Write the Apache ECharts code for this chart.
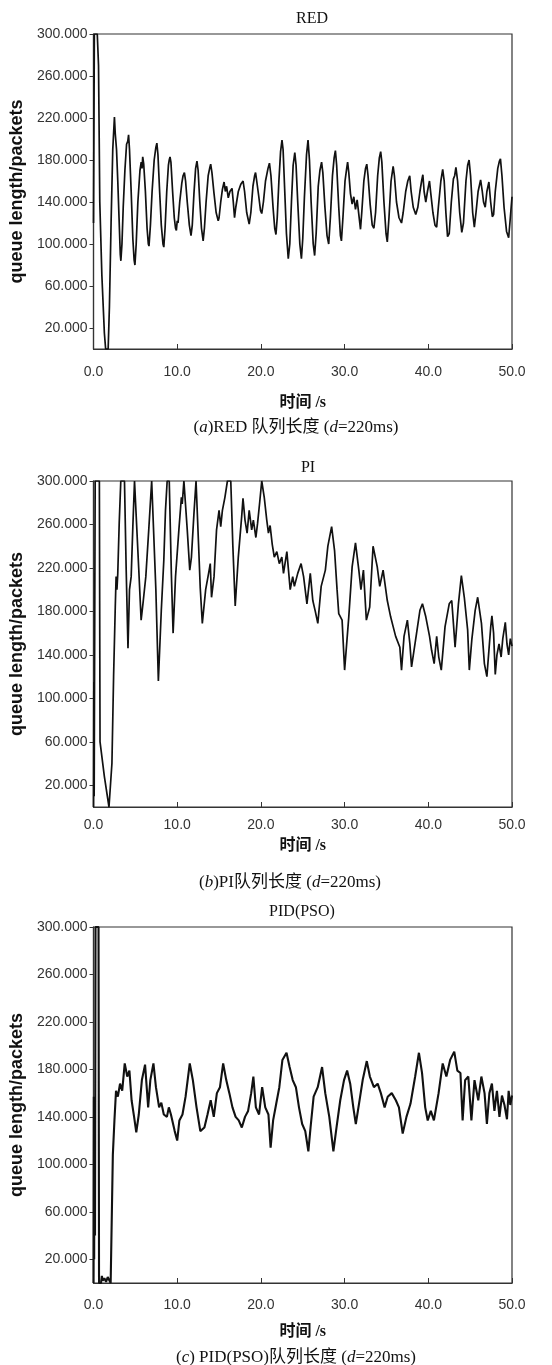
<!DOCTYPE html>
<html>
<head>
<meta charset="utf-8">
<script src="https://cdn.jsdelivr.net/npm/echarts@6/dist/echarts.min.js"></script>
<style>
  html, body { margin: 0; padding: 0; background: #fff; }
  #chart { width: 552px; height: 1365px; }
</style>
</head>
<body>
<div id="chart"></div>
<script>
// 坐标轴刻度
const xTicks = [0, 10, 20, 30, 40, 50];
const yTicks = [20, 60, 100, 140, 180, 220, 260, 300];
const panelTitles = ['RED', 'PI', 'PID(PSO)'];
const captions = [
  '({i|a})RED 队列长度 ({i|d}=220ms)',
  '({i|b})PI队列长度 ({i|d}=220ms)',
  '({i|c}) PID(PSO)队列长度 ({i|d}=220ms)'
];
const xName = '时间 /s';
const yName = 'queue length/packets';

// [时间 s, 队列长度 packets]
const redQueue = [
  [0,120],[0.1,300],[0.45,300],[0.6,270],[0.75,140],[1.0,70],[1.3,15],[1.45,0],[1.75,0],[1.9,40],[2.1,120],[2.3,190],[2.5,221],
  [2.6,205],[2.75,190],[2.9,160],[3.05,125],[3.2,90],[3.27,84],[3.4,100],[3.55,135],[3.75,170],[3.95,195],[4.1,198],[4.19,204],
  [4.3,190],[4.5,150],[4.7,105],[4.85,85],[4.95,80],[5.1,100],[5.3,140],[5.55,170],[5.7,178],[5.8,172],[5.88,183],[6.0,176],
  [6.2,150],[6.4,115],[6.55,100],[6.63,98],[6.8,118],[7.0,150],[7.25,180],[7.45,192],[7.57,196],[7.7,185],[7.9,150],[8.1,118],
  [8.3,100],[8.4,97],[8.55,115],[8.75,150],[8.95,175],[9.05,180],[9.14,183],[9.25,178],[9.45,150],[9.65,125],[9.8,115],[9.9,113],
  [10.0,122],[10.1,120],[10.3,140],[10.55,158],[10.7,165],[10.86,168],[11.0,160],[11.2,140],[11.45,118],[11.65,108],[11.8,118],
  [12.0,148],[12.2,172],[12.36,179],[12.5,170],[12.7,140],[12.9,115],[13.1,103],[13.25,115],[13.45,140],[13.7,165],[13.9,173],
  [14.0,176],[14.15,168],[14.4,148],[14.65,130],[14.9,122],[15.0,125],[15.2,140],[15.4,152],[15.6,159],[15.75,150],[15.9,155],
  [16.1,144],[16.3,150],[16.55,153],[16.7,140],[16.85,125],[17.0,135],[17.3,150],[17.6,157],[17.87,160],[18.05,150],[18.3,130],
  [18.6,119],[18.8,130],[19.05,155],[19.25,165],[19.36,168],[19.5,160],[19.75,145],[19.95,132],[20.1,129],[20.3,140],[20.55,160],
  [20.85,172],[21.02,177],[21.2,165],[21.45,135],[21.65,115],[21.8,109],[21.95,125],[22.15,160],[22.35,188],[22.52,199],[22.65,190],
  [22.85,150],[23.05,110],[23.27,86],[23.45,100],[23.65,140],[23.85,175],[24.05,187],[24.2,175],[24.4,140],[24.65,100],[24.84,86],
  [25.0,105],[25.2,145],[25.45,185],[25.63,199],[25.8,180],[26.0,140],[26.25,100],[26.42,89],[26.6,110],[26.85,155],[27.05,170],
  [27.25,178],[27.4,168],[27.65,135],[27.9,108],[28.1,100],[28.3,125],[28.55,165],[28.75,182],[28.9,189],[29.05,175],[29.3,135],
  [29.5,108],[29.62,103],[29.8,125],[30.05,160],[30.25,172],[30.36,178],[30.5,168],[30.7,148],[30.9,138],[31.1,145],[31.3,133],
  [31.5,142],[31.7,128],[31.9,114],[32.05,130],[32.3,160],[32.5,172],[32.65,176],[32.8,165],[33.05,138],[33.3,118],[33.5,115],
  [33.7,130],[33.95,165],[34.15,182],[34.31,188],[34.45,178],[34.7,140],[34.95,110],[35.1,102],[35.3,125],[35.55,160],[35.8,174],
  [35.95,165],[36.2,140],[36.5,125],[36.8,120],[37.0,130],[37.3,150],[37.55,160],[37.78,165],[37.95,150],[38.2,135],[38.5,128],
  [38.75,135],[39.0,150],[39.2,160],[39.35,166],[39.5,150],[39.7,140],[39.9,150],[40.14,160],[40.3,148],[40.55,130],[40.8,118],
  [41.0,116],[41.2,135],[41.5,160],[41.72,171],[41.9,160],[42.1,130],[42.3,107],[42.5,110],[42.75,140],[43.0,162],[43.15,165],
  [43.3,173],[43.5,160],[43.75,130],[44.0,111],[44.2,120],[44.5,160],[44.7,175],[44.87,180],[45.05,165],[45.3,130],[45.5,116],
  [45.7,130],[45.95,150],[46.25,161],[46.45,150],[46.6,140],[46.8,135],[47.0,150],[47.24,159],[47.45,140],[47.65,126],[47.8,128],
  [48.0,150],[48.3,172],[48.5,179],[48.62,181],[48.8,165],[49.05,135],[49.35,112],[49.6,106],[49.8,125],[50,145]
];

const piQueue = [
  [0,0],[0.04,115],[0.08,10],[0.12,112],[0.2,300],[0.7,300],[0.78,60],[1.3,28],[1.85,0],[2.0,0],[2.2,40],[2.4,120],[2.6,184],
  [2.7,212],[2.8,200],[2.9,215],[3.07,261],[3.26,300],[3.7,300],[3.9,220],[4.12,146],[4.3,200],[4.5,212],[4.7,258],[4.9,300],
  [5.1,300],[5.4,220],[5.69,172],[5.95,190],[6.25,212],[6.6,255],[6.95,300],[7.15,300],[7.45,200],[7.75,116],[8.1,181],[8.4,227],
  [8.6,273],[8.8,300],[9.05,300],[9.3,215],[9.51,160],[9.8,212],[10.2,255],[10.5,285],[10.6,279],[10.8,300],[10.95,300],[11.2,255],
  [11.5,218],[11.7,230],[12.0,270],[12.25,300],[12.4,300],[12.55,242],[12.75,202],[13.0,169],[13.4,200],[13.75,215],[13.95,224],
  [14.1,193],[14.4,212],[14.7,255],[15.0,273],[15.2,258],[15.4,273],[15.7,285],[16.0,300],[16.4,300],[16.65,240],[16.93,185],
  [17.3,230],[17.7,267],[17.86,284],[18.1,264],[18.35,252],[18.6,273],[18.9,255],[19.1,264],[19.4,248],[19.6,261],[19.85,280],
  [20.1,300],[20.4,285],[20.7,264],[20.9,252],[21.1,259],[21.35,242],[21.6,230],[21.9,235],[22.2,224],[22.5,230],[22.7,215],
  [23.1,235],[23.5,200],[23.8,212],[24.0,203],[24.4,215],[24.8,224],[25.1,212],[25.5,187],[25.9,215],[26.2,190],[26.5,180],
  [26.8,169],[27.2,203],[27.7,218],[28.0,240],[28.45,258],[28.8,236],[29.1,200],[29.3,178],[29.7,172],[30.0,126],[30.5,175],
  [30.9,221],[31.3,243],[31.7,218],[31.95,200],[32.25,218],[32.6,172],[33.0,184],[33.4,240],[33.9,221],[34.2,203],[34.6,218],
  [35.1,190],[35.5,175],[35.8,166],[36.1,157],[36.6,147],[36.8,126],[37.1,157],[37.5,172],[37.8,150],[38.0,129],[38.6,160],
  [39.0,181],[39.3,187],[39.7,175],[40.15,157],[40.4,144],[40.7,132],[41.0,157],[41.25,138],[41.55,126],[42.0,166],[42.5,187],
  [42.8,190],[43.0,169],[43.2,147],[43.6,187],[43.95,213],[44.3,193],[44.7,163],[44.9,126],[45.2,154],[45.6,181],[45.9,193],
  [46.35,169],[46.7,132],[47.0,120],[47.2,140],[47.45,165],[47.6,176],[47.8,160],[48.0,122],[48.2,140],[48.45,150],[48.7,138],
  [48.9,155],[49.2,170],[49.4,150],[49.6,140],[49.8,155],[50,148]
];

const pidQueue = [
  [0,0],[0.04,157],[0.08,20],[0.12,150],[0.18,40],[0.24,300],[0.6,300],[0.66,0],[0.9,0],[1.0,6],[1.1,2],[1.3,4],[1.5,1],[1.7,5],
  [1.9,2],[2.05,0],[2.31,108],[2.5,137],[2.69,162],[2.91,157],[3.17,168],[3.43,162],[3.73,185],[4.03,174],[4.29,179],[4.55,154],
  [4.85,140],[5.11,127],[5.41,142],[5.78,171],[6.16,184],[6.53,148],[6.79,171],[7.16,185],[7.46,165],[7.84,148],[8.1,152],[8.4,142],
  [8.77,140],[9.0,148],[9.25,142],[9.7,128],[10.0,120],[10.26,137],[10.63,142],[11.0,157],[11.5,185],[11.87,171],[12.31,148],
  [12.76,128],[13.25,131],[13.62,142],[14.0,154],[14.37,140],[14.74,160],[15.11,165],[15.49,185],[15.86,171],[16.23,160],[16.6,148],
  [16.98,140],[17.35,137],[17.72,131],[18.1,140],[18.47,145],[18.84,160],[19.1,174],[19.4,148],[19.78,142],[20.15,165],[20.52,148],
  [20.9,142],[21.16,114],[21.46,137],[21.83,151],[22.2,165],[22.57,188],[23.06,194],[23.43,182],[23.8,171],[24.18,165],[24.55,148],
  [24.93,134],[25.3,128],[25.67,111],[25.93,131],[26.3,157],[26.79,165],[27.31,182],[27.69,160],[28.17,140],[28.66,111],[29.03,131],
  [29.48,154],[29.93,171],[30.3,179],[30.67,168],[31.04,148],[31.34,134],[31.72,151],[32.16,171],[32.65,187],[33.02,174],[33.5,165],
  [33.95,168],[34.33,160],[34.78,148],[35.15,157],[35.63,160],[36.12,154],[36.49,148],[36.94,126],[37.39,140],[37.87,151],[38.43,174],
  [38.88,194],[39.25,177],[39.63,148],[39.93,137],[40.3,145],[40.67,137],[41.23,160],[41.72,185],[42.16,174],[42.61,188],[43.1,195],
  [43.47,179],[43.84,177],[44.1,137],[44.4,171],[44.78,174],[45.15,137],[45.52,171],[45.97,154],[46.34,174],[46.72,160],[47.0,134],
  [47.3,160],[47.6,168],[47.9,145],[48.2,162],[48.5,140],[48.8,158],[49.1,150],[49.4,138],[49.6,162],[49.8,150],[50,158]
];

const seriesData = [redQueue, piQueue, pidQueue];

// 三个子图的布局
const grids = [
  { left: 89, top: 34, width: 423, height: 315 },
  { left: 89, top: 481, width: 423, height: 326 },
  { left: 89, top: 927, width: 423, height: 356 }
];
const xLabelMargin = [16, 11, 15];
const xNameGap = [46, 31, 41];
const lineWidths = [1.7, 1.7, 2.1]; // 原图噪声使曲线显得较粗
const titlePos = [[312, 19], [308, 468], [302, 912]];
const captionPos = [[296, 428], [290, 883], [296, 1358]];

const sans = "'Liberation Sans', Arial, sans-serif";
const serif = "'Liberation Serif', 'Noto Sans CJK SC', serif";

const chart = echarts.init(document.getElementById('chart'));

const option = {
  animation: false,
  backgroundColor: '#fff',
  grid: grids.map(g => Object.assign({
    show: true, borderColor: '#333', borderWidth: 1.2, backgroundColor: 'transparent'
  }, g)),
  xAxis: grids.map((g, i) => ({
    type: 'value',
    gridIndex: i,
    min: 0,
    max: 50,
    interval: 10,
    name: xName,
    nameLocation: 'middle',
    nameGap: xNameGap[i],
    nameTextStyle: { fontFamily: serif, fontSize: 16, fontWeight: 'bold', color: '#111' },
    axisLine: { show: true, lineStyle: { color: '#333', width: 1.2 } },
    axisTick: { show: true, inside: true, length: 5, lineStyle: { color: '#333' } },
    axisLabel: {
      margin: xLabelMargin[i], fontFamily: sans, fontSize: 14, color: '#333',
      formatter: v => v.toFixed(1)
    },
    splitLine: { show: false }
  })),
  yAxis: grids.map((g, i) => ({
    type: 'value',
    gridIndex: i,
    min: 0,
    max: 300,
    name: yName,
    nameLocation: 'middle',
    nameRotate: 90,
    nameGap: 64,
    nameTextStyle: { fontFamily: sans, fontSize: 18, fontWeight: 'bold', color: '#111' },
    axisLine: { show: true, lineStyle: { color: '#333', width: 1.2 } },
    axisTick: { show: true, inside: false, length: 4, customValues: yTicks, lineStyle: { color: '#333' } },
    axisLabel: {
      margin: 6, fontFamily: sans, fontSize: 14, color: '#333',
      customValues: yTicks,
      formatter: v => v.toFixed(3)
    },
    splitLine: { show: false }
  })),
  series: seriesData.map((d, i) => ({
    type: 'line',
    xAxisIndex: i,
    yAxisIndex: i,
    data: d,
    symbol: 'none',
    lineStyle: { color: '#111', width: lineWidths[i] },
    clip: true
  })),
  graphic: [
    ...panelTitles.map((t, i) => ({
      type: 'text',
      x: titlePos[i][0],
      y: titlePos[i][1],
      style: {
        text: t, fontFamily: serif, fontSize: 16, fill: '#111',
        align: 'center', verticalAlign: 'middle'
      }
    })),
    ...captions.map((c, i) => ({
      type: 'text',
      x: captionPos[i][0],
      y: captionPos[i][1],
      style: {
        text: c, fontFamily: serif, fontSize: 17, fill: '#111',
        align: 'center', verticalAlign: 'middle',
        rich: { i: { fontFamily: serif, fontSize: 17, fontStyle: 'italic', fill: '#111' } }
      }
    }))
  ]
};

chart.setOption(option);
window.addEventListener('resize', () => chart.resize());
</script>
</body>
</html>
